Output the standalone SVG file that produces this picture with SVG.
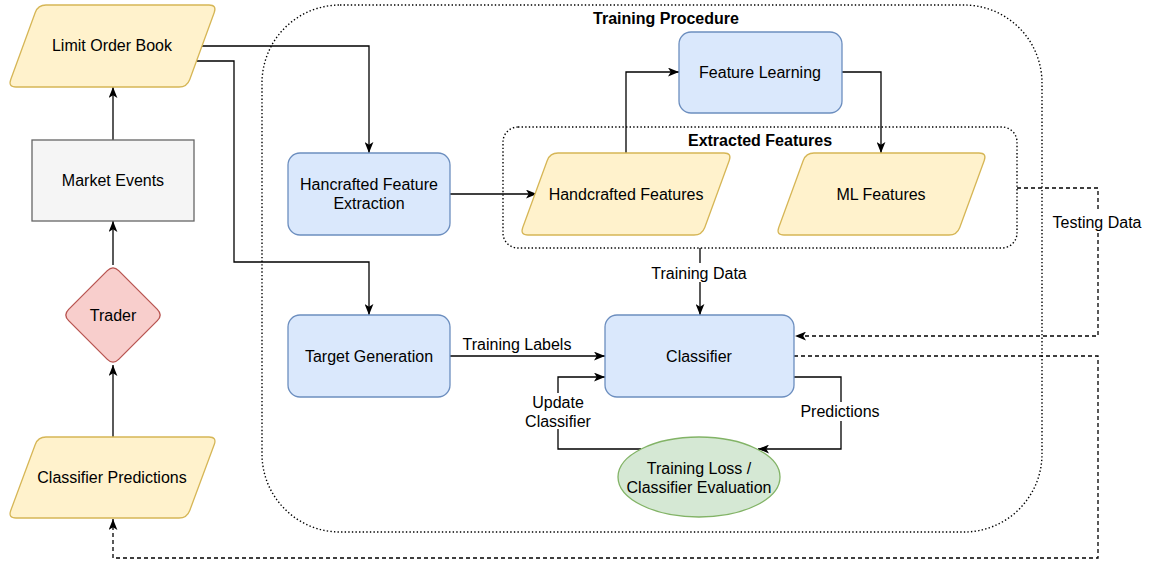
<svg xmlns="http://www.w3.org/2000/svg" width="1150" height="562" viewBox="0 0 1150 562">
<style>
text{font-family:"Liberation Sans",Arial,Helvetica,sans-serif;font-size:16px;fill:#000;text-anchor:middle}
.b{font-weight:bold}
.yel{fill:#fff2cc;stroke:#d6b656;stroke-width:1.3}
.blu{fill:#dae8fc;stroke:#6c8ebf;stroke-width:1.3}
.red{fill:#f8cecc;stroke:#b85450;stroke-width:1.3}
.grn{fill:#d5e8d4;stroke:#82b366;stroke-width:1.3}
.gry{fill:#f5f5f5;stroke:#666666;stroke-width:1.3}
.cont{fill:none;stroke:#000;stroke-width:1.4;stroke-dasharray:1.4 2.2}
.ln{fill:none;stroke:#000;stroke-width:1.3;marker-end:url(#arr)}
.dash{stroke-dasharray:4 3}
.lbg{fill:#fff}
</style>
<defs>
<marker id="arr" viewBox="0 0 10 8" refX="10" refY="4" markerWidth="11" markerHeight="9" orient="auto" markerUnits="userSpaceOnUse">
<path d="M0,0 L10,4 L0,8 L2.5,4 Z" fill="#000"/>
</marker>
</defs>
<rect width="1150" height="562" fill="#fff"/>
<g id="training-procedure">
<rect class="cont" x="262" y="5" width="780" height="527" rx="78" ry="78"/>
<text class="b" x="666" y="24">Training Procedure</text>
</g>
<g id="extracted-features">
<rect class="cont" x="503" y="127" width="514" height="121" rx="15" ry="15"/>
<text class="b" x="760" y="146">Extracted Features</text>
</g>
<g id="connectors">
<path class="ln" d="M113,140 L113,87"/>
<path class="ln" d="M113,265 L113,221"/>
<path class="ln" d="M113,437 L113,365"/>
<path class="ln" d="M200,46 L369,46 L369,153"/>
<path class="ln" d="M192,61 L234,61 L234,262 L369,262 L369,315"/>
<path class="ln" d="M450,194 L537,194"/>
<path class="ln" d="M626,153 L626,72 L679,72"/>
<path class="ln" d="M842,72 L881,72 L881,153"/>
<path class="ln" d="M700,248 L700,315"/>
<path class="ln" d="M450,356 L605,356"/>
<path class="ln" d="M641,449 L558,449 L558,377 L605,377"/>
<path class="ln" d="M794,377 L841,377 L841,449 L758,449"/>
<path class="ln dash" d="M1017,188 L1098,188 L1098,336 L795,336"/>
<path class="ln dash" d="M794,356 L1098,356 L1098,558 L113,558 L113,519"/>
<rect class="lbg" x="650" y="263" width="100" height="19"/>
<text x="699" y="279">Training Data</text>
<text x="517" y="350">Training Labels</text>
<rect class="lbg" x="520" y="393" width="76" height="36"/>
<text x="558" y="408">Update</text>
<text x="558" y="427">Classifier</text>
<rect class="lbg" x="800" y="402" width="82" height="19"/>
<text x="840" y="417">Predictions</text>
<rect class="lbg" x="1050" y="212" width="94" height="19"/>
<text x="1097" y="228">Testing Data</text>
</g>
<g id="limit-order-book">
<path class="yel" d="M46,5 L209,5 Q217,5 214.25,12.5 L189.75,79.5 Q187,87 179,87 L16,87 Q8,87 10.75,79.5 L35.25,12.5 Q38,5 46,5 Z"/>
<text x="112" y="51">Limit Order Book</text>
</g>
<g id="market-events">
<rect class="gry" x="32" y="140" width="162" height="81"/>
<text x="113" y="186">Market Events</text>
</g>
<g id="trader">
<path class="red" d="M107.34,270.66 Q113,265 118.66,270.66 L157.34,309.34 Q163,315 157.34,320.66 L118.66,359.34 Q113,365 107.34,359.34 L68.66,320.66 Q63,315 68.66,309.34 Z"/>
<text x="113" y="321">Trader</text>
</g>
<g id="classifier-predictions">
<path class="yel" d="M46,437 L209,437 Q217,437 214.25,444.5 L189.75,510.5 Q187,518 179,518 L16,518 Q8,518 10.75,510.5 L35.25,444.5 Q38,437 46,437 Z"/>
<text x="112" y="483">Classifier Predictions</text>
</g>
<g id="hancrafted-feature-extraction">
<rect class="blu" x="288" y="153" width="162" height="82" rx="12" ry="12"/>
<text x="369" y="190">Hancrafted Feature</text>
<text x="369" y="209">Extraction</text>
</g>
<g id="feature-learning">
<rect class="blu" x="679" y="32" width="163" height="81" rx="12" ry="12"/>
<text x="760" y="78">Feature Learning</text>
</g>
<g id="handcrafted-features">
<path class="yel" d="M558,153 L724,153 Q732,153 729.25,160.5 L704.75,227.5 Q702,235 694,235 L528,235 Q520,235 522.75,227.5 L547.25,160.5 Q550,153 558,153 Z"/>
<text x="626" y="200">Handcrafted Features</text>
</g>
<g id="ml-features">
<path class="yel" d="M814,153 L979,153 Q987,153 984.25,160.5 L959.75,227.5 Q957,235 949,235 L784,235 Q776,235 778.75,227.5 L803.25,160.5 Q806,153 814,153 Z"/>
<text x="881" y="200">ML Features</text>
</g>
<g id="target-generation">
<rect class="blu" x="288" y="315" width="162" height="82" rx="12" ry="12"/>
<text x="369" y="362">Target Generation</text>
</g>
<g id="classifier">
<rect class="blu" x="605" y="315" width="189" height="82" rx="12" ry="12"/>
<text x="699" y="362">Classifier</text>
</g>
<g id="training-loss">
<ellipse class="grn" cx="699" cy="477" rx="81" ry="40"/>
<text x="699" y="474">Training Loss /</text>
<text x="699" y="493">Classifier Evaluation</text>
</g>
</svg>
